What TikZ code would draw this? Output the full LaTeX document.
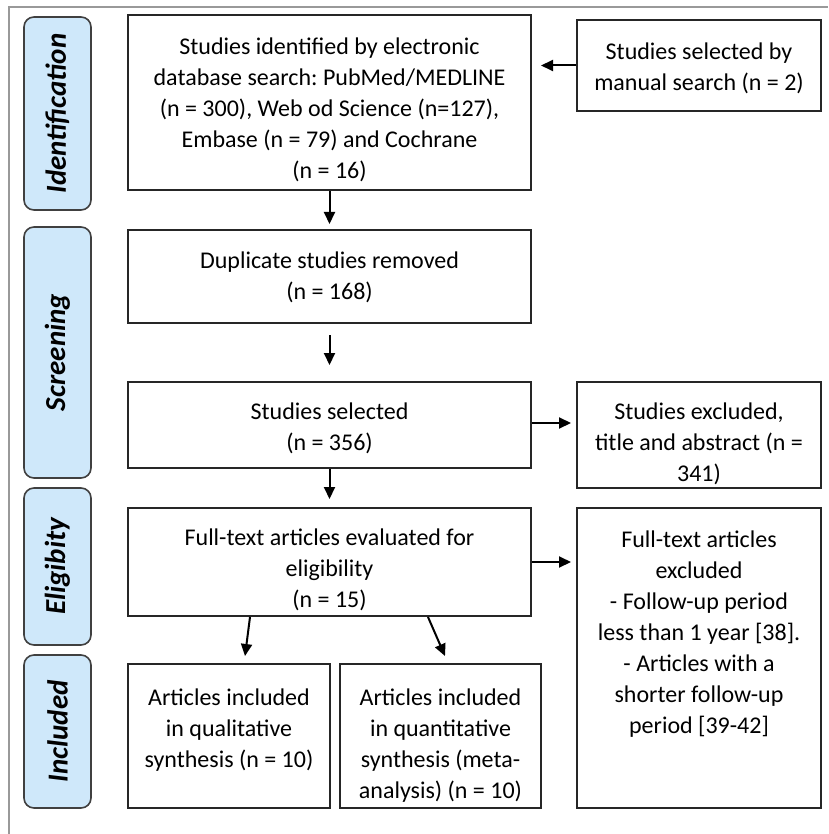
\documentclass[tikz,border=0pt]{standalone}
\usepackage{fontspec}
\setmainfont{Carlito}
\usetikzlibrary{arrows.meta}
\definecolor{sideblue}{HTML}{CFE8FA}
\frenchspacing
\newcommand{\bt}[4]{\parbox[c][#1][t]{#2}{\centering\frenchspacing\vspace*{#3}#4\par}}
\tikzset{
  box/.style={draw=black!85, line width=2pt, align=center, inner sep=2pt, font=\fontsize{24}{31}\selectfont},
  side/.style={draw=black!75, fill=sideblue, line width=1.6pt, rounded corners=10pt, rotate=90, font=\fontsize{29}{34}\selectfont\bfseries\itshape},
  arr/.style={-{Triangle[length=12pt,width=11pt]}, line width=2pt},
  frame/.style={draw=black!40, line width=2pt}
}
\begin{document}
\begin{tikzpicture}[x=1pt,y=-1pt]
\useasboundingbox (0,0) rectangle (828,834);
\draw[frame] (9,834) -- (9,7) -- (828,7);
% side labels
\node[side, minimum width=193pt, minimum height=67pt] (sid) at (57.5,113.5) {Identification};
\node[side, minimum width=251pt, minimum height=67pt] (sscr) at (57.5,352.5) {Screening};
\node[side, minimum width=157pt, minimum height=67pt] (seli) at (57.5,566.5) {Eligibity};
\node[side, minimum width=153pt, minimum height=67pt] (sinc) at (57.5,731.5) {Included};
% boxes
\node[box, minimum width=403pt, minimum height=175pt] (b1) at (329.5,102.5)
  {\bt{171pt}{395pt}{21pt}{Studies identified by electronic\\database search: PubMed/MEDLINE\\(n = 300), Web od Science (n=127),\\Embase (n = 79) and Cochrane\\(n = 16)}};
\node[box, minimum width=244pt, minimum height=91pt] (man) at (699,65.5)
  {\bt{87pt}{236pt}{21pt}{Studies selected by\\manual search (n = 2)}};
\node[box, minimum width=403pt, minimum height=93pt] (b2) at (329.5,276.5)
  {\bt{89pt}{395pt}{20pt}{Duplicate studies removed\\(n = 168)}};
\node[box, minimum width=403pt, minimum height=86pt] (b3) at (329.5,425)
  {\bt{82pt}{395pt}{19pt}{Studies selected\\(n = 356)}};
\node[box, minimum width=244pt, minimum height=106pt] (exc) at (699,435)
  {\bt{102pt}{236pt}{19pt}{Studies excluded,\\title and abstract (n =\\341)}};
\node[box, minimum width=403pt, minimum height=108pt] (b4) at (329.5,562)
  {\bt{104pt}{395pt}{19pt}{Full-text articles evaluated for\\eligibility\\(n = 15)}};
\node[box, minimum width=244pt, minimum height=300pt] (ft) at (699,658)
  {\bt{296pt}{236pt}{21pt}{Full-text articles\\excluded\\- Follow-up period\\less than 1 year [38].\\- Articles with a\\shorter follow-up\\period [39-42]}};
\node[box, minimum width=202pt, minimum height=144pt] (q1) at (229,736)
  {\bt{140pt}{196pt}{23pt}{Articles included\\in qualitative\\synthesis (n = 10)}};
\node[box, minimum width=201pt, minimum height=144pt] (q2) at (440.5,736)
  {\bt{140pt}{195pt}{23pt}{Articles included\\in quantitative\\synthesis (meta-\\analysis) (n = 10)}};
% connectors
\draw[arr, shorten >=5pt] (b1.south) -- (b2.north);
\draw[arr] ([yshift=-11pt]b2.south) -- ([yshift=16pt]b3.north);
\draw[arr, shorten >=8pt] (b3.south) -- (b4.north);
\draw[arr, shorten >=9pt] (man.west) -- (man.west -| b1.east);
\draw[arr, shorten >=5pt] (b3.east |- 0,423) -- (exc.west |- 0,423);
\draw[arr, shorten >=5pt] (b4.east |- 0,562) -- (ft.west |- 0,562);
\coordinate (d1) at (245,656);
\coordinate (d2) at (445,656);
\draw[arr] (b4.south -| 250,0) -- (d1);
\draw[arr] (b4.south -| 428,0) -- (d2);
\end{tikzpicture}
\end{document}
